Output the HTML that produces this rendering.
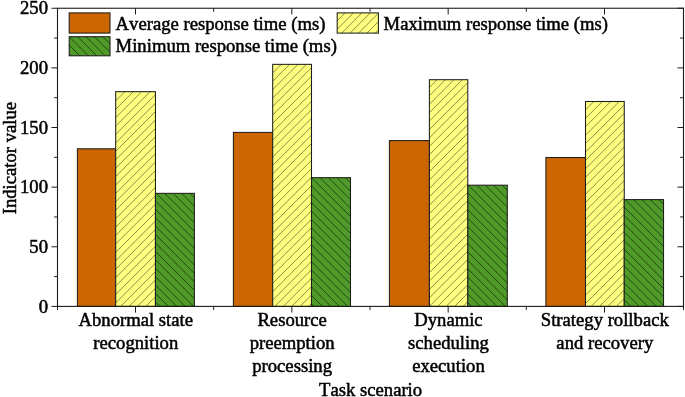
<!DOCTYPE html>
<html><head><meta charset="utf-8"><title>chart</title>
<style>
html,body{margin:0;padding:0;background:#fff;}
svg{display:block;will-change:transform;}
text{font-family:"Liberation Serif",serif;font-size:18.67px;fill:#000;stroke:#000;stroke-width:0.5px;font-kerning:none;}
</style></head><body>
<svg width="685" height="397" viewBox="0 0 685 397">
<rect x="0" y="0" width="685" height="397" fill="#fff"/>

<rect x="77.40" y="148.80" width="38.30" height="157.60" fill="#cc6600"/>
<rect x="77.40" y="148.80" width="38.30" height="157.60" fill="none" stroke="#1e1e1e" stroke-width="1.05"/>
<rect x="115.70" y="91.68" width="39.75" height="214.72" fill="#ffff80"/>
<path d="M115.70,92.38L116.40,91.68M115.70,100.80L124.82,91.68M115.70,109.22L133.24,91.68M115.70,117.64L141.66,91.68M115.70,126.06L150.08,91.68M115.70,134.48L155.45,94.73M115.70,142.90L155.45,103.15M115.70,151.32L155.45,111.57M115.70,159.74L155.45,119.99M115.70,168.16L155.45,128.41M115.70,176.58L155.45,136.83M115.70,185.00L155.45,145.25M115.70,193.42L155.45,153.67M115.70,201.84L155.45,162.09M115.70,210.26L155.45,170.51M115.70,218.68L155.45,178.93M115.70,227.10L155.45,187.35M115.70,235.52L155.45,195.77M115.70,243.94L155.45,204.19M115.70,252.36L155.45,212.61M115.70,260.78L155.45,221.03M115.70,269.20L155.45,229.45M115.70,277.62L155.45,237.87M115.70,286.04L155.45,246.29M115.70,294.46L155.45,254.71M115.70,302.88L155.45,263.13M120.60,306.40L155.45,271.55M129.02,306.40L155.45,279.97M137.44,306.40L155.45,288.39M145.86,306.40L155.45,296.81M154.28,306.40L155.45,305.23" stroke="#2b2b14" stroke-width="0.55" fill="none"/>
<rect x="115.70" y="91.68" width="39.75" height="214.72" fill="none" stroke="#1e1e1e" stroke-width="1.05"/>
<rect x="155.45" y="193.35" width="38.95" height="113.05" fill="#4f9a28"/>
<path d="M155.45,301.88L159.97,306.40M155.45,293.46L168.39,306.40M155.45,285.04L176.81,306.40M155.45,276.62L185.23,306.40M155.45,268.20L193.65,306.40M155.45,259.78L194.40,298.73M155.45,251.36L194.40,290.31M155.45,242.94L194.40,281.89M155.45,234.52L194.40,273.47M155.45,226.10L194.40,265.05M155.45,217.68L194.40,256.63M155.45,209.26L194.40,248.21M155.45,200.84L194.40,239.79M156.38,193.35L194.40,231.37M164.80,193.35L194.40,222.95M173.22,193.35L194.40,214.53M181.64,193.35L194.40,206.11M190.06,193.35L194.40,197.69" stroke="#061203" stroke-width="0.6" fill="none"/>
<rect x="155.45" y="193.35" width="38.95" height="113.05" fill="none" stroke="#1e1e1e" stroke-width="1.05"/>
<rect x="233.40" y="132.40" width="39.30" height="174.00" fill="#cc6600"/>
<rect x="233.40" y="132.40" width="39.30" height="174.00" fill="none" stroke="#1e1e1e" stroke-width="1.05"/>
<rect x="272.70" y="64.35" width="38.80" height="242.05" fill="#ffff80"/>
<path d="M272.70,72.80L281.15,64.35M272.70,81.22L289.57,64.35M272.70,89.64L297.99,64.35M272.70,98.06L306.41,64.35M272.70,106.48L311.50,67.68M272.70,114.90L311.50,76.10M272.70,123.32L311.50,84.52M272.70,131.74L311.50,92.94M272.70,140.16L311.50,101.36M272.70,148.58L311.50,109.78M272.70,157.00L311.50,118.20M272.70,165.42L311.50,126.62M272.70,173.84L311.50,135.04M272.70,182.26L311.50,143.46M272.70,190.68L311.50,151.88M272.70,199.10L311.50,160.30M272.70,207.52L311.50,168.72M272.70,215.94L311.50,177.14M272.70,224.36L311.50,185.56M272.70,232.78L311.50,193.98M272.70,241.20L311.50,202.40M272.70,249.62L311.50,210.82M272.70,258.04L311.50,219.24M272.70,266.46L311.50,227.66M272.70,274.88L311.50,236.08M272.70,283.30L311.50,244.50M272.70,291.72L311.50,252.92M272.70,300.14L311.50,261.34M274.86,306.40L311.50,269.76M283.28,306.40L311.50,278.18M291.70,306.40L311.50,286.60M300.12,306.40L311.50,295.02M308.54,306.40L311.50,303.44" stroke="#2b2b14" stroke-width="0.55" fill="none"/>
<rect x="272.70" y="64.35" width="38.80" height="242.05" fill="none" stroke="#1e1e1e" stroke-width="1.05"/>
<rect x="311.50" y="177.68" width="39.00" height="128.72" fill="#4f9a28"/>
<path d="M311.50,303.82L314.08,306.40M311.50,295.40L322.50,306.40M311.50,286.98L330.92,306.40M311.50,278.56L339.34,306.40M311.50,270.14L347.76,306.40M311.50,261.72L350.50,300.72M311.50,253.30L350.50,292.30M311.50,244.88L350.50,283.88M311.50,236.46L350.50,275.46M311.50,228.04L350.50,267.04M311.50,219.62L350.50,258.62M311.50,211.20L350.50,250.20M311.50,202.78L350.50,241.78M311.50,194.36L350.50,233.36M311.50,185.94L350.50,224.94M311.66,177.68L350.50,216.52M320.08,177.68L350.50,208.10M328.50,177.68L350.50,199.68M336.92,177.68L350.50,191.26M345.34,177.68L350.50,182.84" stroke="#061203" stroke-width="0.6" fill="none"/>
<rect x="311.50" y="177.68" width="39.00" height="128.72" fill="none" stroke="#1e1e1e" stroke-width="1.05"/>
<rect x="389.40" y="140.60" width="40.00" height="165.80" fill="#cc6600"/>
<rect x="389.40" y="140.60" width="40.00" height="165.80" fill="none" stroke="#1e1e1e" stroke-width="1.05"/>
<rect x="429.40" y="79.70" width="38.40" height="226.70" fill="#ffff80"/>
<path d="M429.40,87.40L437.10,79.70M429.40,95.82L445.52,79.70M429.40,104.24L453.94,79.70M429.40,112.66L462.36,79.70M429.40,121.08L467.80,82.68M429.40,129.50L467.80,91.10M429.40,137.92L467.80,99.52M429.40,146.34L467.80,107.94M429.40,154.76L467.80,116.36M429.40,163.18L467.80,124.78M429.40,171.60L467.80,133.20M429.40,180.02L467.80,141.62M429.40,188.44L467.80,150.04M429.40,196.86L467.80,158.46M429.40,205.28L467.80,166.88M429.40,213.70L467.80,175.30M429.40,222.12L467.80,183.72M429.40,230.54L467.80,192.14M429.40,238.96L467.80,200.56M429.40,247.38L467.80,208.98M429.40,255.80L467.80,217.40M429.40,264.22L467.80,225.82M429.40,272.64L467.80,234.24M429.40,281.06L467.80,242.66M429.40,289.48L467.80,251.08M429.40,297.90L467.80,259.50M429.40,306.32L467.80,267.92M437.74,306.40L467.80,276.34M446.16,306.40L467.80,284.76M454.58,306.40L467.80,293.18M463.00,306.40L467.80,301.60" stroke="#2b2b14" stroke-width="0.55" fill="none"/>
<rect x="429.40" y="79.70" width="38.40" height="226.70" fill="none" stroke="#1e1e1e" stroke-width="1.05"/>
<rect x="467.80" y="185.20" width="39.50" height="121.20" fill="#4f9a28"/>
<path d="M467.80,302.43L471.77,306.40M467.80,294.01L480.19,306.40M467.80,285.59L488.61,306.40M467.80,277.17L497.03,306.40M467.80,268.75L505.45,306.40M467.80,260.33L507.30,299.83M467.80,251.91L507.30,291.41M467.80,243.49L507.30,282.99M467.80,235.07L507.30,274.57M467.80,226.65L507.30,266.15M467.80,218.23L507.30,257.73M467.80,209.81L507.30,249.31M467.80,201.39L507.30,240.89M467.80,192.97L507.30,232.47M468.45,185.20L507.30,224.05M476.87,185.20L507.30,215.63M485.29,185.20L507.30,207.21M493.71,185.20L507.30,198.79M502.13,185.20L507.30,190.37" stroke="#061203" stroke-width="0.6" fill="none"/>
<rect x="467.80" y="185.20" width="39.50" height="121.20" fill="none" stroke="#1e1e1e" stroke-width="1.05"/>
<rect x="545.90" y="157.55" width="39.60" height="148.85" fill="#cc6600"/>
<rect x="545.90" y="157.55" width="39.60" height="148.85" fill="none" stroke="#1e1e1e" stroke-width="1.05"/>
<rect x="585.50" y="101.50" width="38.75" height="204.90" fill="#ffff80"/>
<path d="M585.50,109.90L593.90,101.50M585.50,118.32L602.32,101.50M585.50,126.74L610.74,101.50M585.50,135.16L619.16,101.50M585.50,143.58L624.25,104.83M585.50,152.00L624.25,113.25M585.50,160.42L624.25,121.67M585.50,168.84L624.25,130.09M585.50,177.26L624.25,138.51M585.50,185.68L624.25,146.93M585.50,194.10L624.25,155.35M585.50,202.52L624.25,163.77M585.50,210.94L624.25,172.19M585.50,219.36L624.25,180.61M585.50,227.78L624.25,189.03M585.50,236.20L624.25,197.45M585.50,244.62L624.25,205.87M585.50,253.04L624.25,214.29M585.50,261.46L624.25,222.71M585.50,269.88L624.25,231.13M585.50,278.30L624.25,239.55M585.50,286.72L624.25,247.97M585.50,295.14L624.25,256.39M585.50,303.56L624.25,264.81M591.08,306.40L624.25,273.23M599.50,306.40L624.25,281.65M607.92,306.40L624.25,290.07M616.34,306.40L624.25,298.49" stroke="#2b2b14" stroke-width="0.55" fill="none"/>
<rect x="585.50" y="101.50" width="38.75" height="204.90" fill="none" stroke="#1e1e1e" stroke-width="1.05"/>
<rect x="624.25" y="199.60" width="39.30" height="106.80" fill="#4f9a28"/>
<path d="M624.25,299.79L630.86,306.40M624.25,291.37L639.28,306.40M624.25,282.95L647.70,306.40M624.25,274.53L656.12,306.40M624.25,266.11L663.55,305.41M624.25,257.69L663.55,296.99M624.25,249.27L663.55,288.57M624.25,240.85L663.55,280.15M624.25,232.43L663.55,271.73M624.25,224.01L663.55,263.31M624.25,215.59L663.55,254.89M624.25,207.17L663.55,246.47M625.10,199.60L663.55,238.05M633.52,199.60L663.55,229.63M641.94,199.60L663.55,221.21M650.36,199.60L663.55,212.79M658.78,199.60L663.55,204.37" stroke="#061203" stroke-width="0.6" fill="none"/>
<rect x="624.25" y="199.60" width="39.30" height="106.80" fill="none" stroke="#1e1e1e" stroke-width="1.05"/>
<rect x="57.5" y="8.25" width="626.0" height="298.15" fill="none" stroke="#1c1c1c" stroke-width="1.1"/>
<path d="M51.5,306.40 H57.5 M677.5,306.40 H683.5 M54.1,276.58 H57.5 M680.1,276.58 H683.5 M51.5,246.77 H57.5 M677.5,246.77 H683.5 M54.1,216.95 H57.5 M680.1,216.95 H683.5 M51.5,187.14 H57.5 M677.5,187.14 H683.5 M54.1,157.32 H57.5 M680.1,157.32 H683.5 M51.5,127.51 H57.5 M677.5,127.51 H683.5 M54.1,97.69 H57.5 M680.1,97.69 H683.5 M51.5,67.88 H57.5 M677.5,67.88 H683.5 M54.1,38.06 H57.5 M680.1,38.06 H683.5 M51.5,8.25 H57.5 M677.5,8.25 H683.5 M57.50,306.4 V309.9 M135.50,306.4 V312.59999999999997 M135.50,8.25 V14.45 M213.67,306.4 V309.9 M213.67,8.25 V11.75 M291.83,306.4 V312.59999999999997 M291.83,8.25 V14.45 M370.00,306.4 V309.9 M370.00,8.25 V11.75 M448.17,306.4 V312.59999999999997 M448.17,8.25 V14.45 M526.33,306.4 V309.9 M526.33,8.25 V11.75 M604.50,306.4 V312.59999999999997 M604.50,8.25 V14.45 M683.50,306.4 V309.9" stroke="#1c1c1c" stroke-width="1" fill="none"/>
<text x="48" y="312.50" text-anchor="end">0</text>
<text x="48" y="252.87" text-anchor="end">50</text>
<text x="48" y="193.24" text-anchor="end">100</text>
<text x="48" y="133.61" text-anchor="end">150</text>
<text x="48" y="73.98" text-anchor="end">200</text>
<text x="48" y="14.35" text-anchor="end">250</text>
<text x="135.80" y="326.20" text-anchor="middle">Abnormal state</text>
<text x="135.80" y="349.00" text-anchor="middle">recognition</text>
<text x="292.13" y="326.20" text-anchor="middle">Resource</text>
<text x="292.13" y="349.00" text-anchor="middle">preemption</text>
<text x="292.13" y="371.50" text-anchor="middle">processing</text>
<text x="448.47" y="326.20" text-anchor="middle">Dynamic</text>
<text x="448.47" y="349.00" text-anchor="middle">scheduling</text>
<text x="448.47" y="371.50" text-anchor="middle">execution</text>
<text x="604.80" y="326.20" text-anchor="middle">Strategy rollback</text>
<text x="604.80" y="349.00" text-anchor="middle">and recovery</text>
<text x="370.6" y="395.9" text-anchor="middle">Task scenario</text>
<text transform="translate(15.6,158.1) rotate(-90)" text-anchor="middle">Indicator value</text>
<rect x="69.2" y="12.9" width="40.8" height="20.2" fill="#cc6600"/><rect x="69.2" y="12.9" width="40.8" height="20.2" fill="none" stroke="#1e1e1e" stroke-width="1.05"/>
<rect x="337.2" y="12.9" width="41.2" height="20.2" fill="#ffff80"/><path d="M337.20,20.75L345.05,12.90M337.20,29.17L353.47,12.90M341.69,33.10L361.89,12.90M350.11,33.10L370.31,12.90M358.53,33.10L378.40,13.23M366.95,33.10L378.40,21.65M375.37,33.10L378.40,30.07" stroke="#2b2b14" stroke-width="0.55" fill="none"/><rect x="337.2" y="12.9" width="41.2" height="20.2" fill="none" stroke="#1e1e1e" stroke-width="1.05"/>
<rect x="69.2" y="36.7" width="40.8" height="19.1" fill="#4f9a28"/><path d="M69.20,53.54L71.46,55.80M69.20,45.12L79.88,55.80M69.20,36.70L88.30,55.80M77.62,36.70L96.72,55.80M86.04,36.70L105.14,55.80M94.46,36.70L110.00,52.24M102.88,36.70L110.00,43.82" stroke="#061203" stroke-width="0.6" fill="none"/><rect x="69.2" y="36.7" width="40.8" height="19.1" fill="none" stroke="#1e1e1e" stroke-width="1.05"/>
<text x="115.6" y="29.6">Average response time (ms)</text>
<text x="383.6" y="29.6">Maximum response time (ms)</text>
<text x="115.6" y="51.9">Minimum response time (ms)</text>
</svg></body></html>
